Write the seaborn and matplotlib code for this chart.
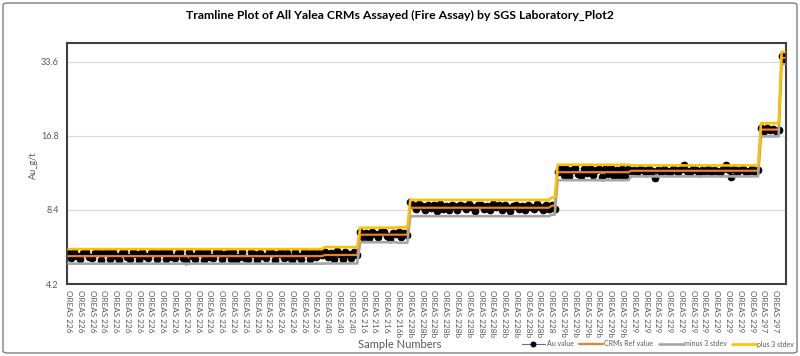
import matplotlib
matplotlib.use("Agg")
import matplotlib.pyplot as plt
import matplotlib.ticker as mticker
from matplotlib.patches import FancyBboxPatch
import numpy as np
import pandas as pd
import seaborn as sns

TITLE = "Tramline Plot of All Yalea CRMs Assayed (Fire Assay) by SGS Laboratory_Plot2"

# CRM blocks in assay order (last block has no visible tick label)
CRM_NAMES = ["OREAS 226", "OREAS 240", "OREAS 216", "OREAS 216b", "OREAS 228b",
             "OREAS 228", "OREAS 229b", "OREAS 229", "OREAS 297", "OREAS hi"]
REF_VALUES = [5.45, 5.51, 6.66, 6.66, 8.57, 8.73, 11.95, 12.11, 17.8, 34.8]
THREE_SD = [0.37, 0.42, 0.45, 0.48, 0.65, 0.70, 0.86, 0.62, 1.1, 2.0]

AU_226 = [5.62, 5.38, 5.66, 5.47, 5.30, 5.63, 5.68, 5.41, 5.35, 5.60,
          5.66, 5.28, 5.59, 5.64, 5.33, 5.67, 5.44, 5.25, 5.62, 5.68,
          5.39, 5.31, 5.65, 5.58, 5.27, 5.66, 5.46, 5.36, 5.63, 5.68,
          5.32, 5.60, 5.65, 5.29, 5.67, 5.42, 5.37, 5.62, 5.68, 5.34,
          5.22, 5.64, 5.45, 5.30, 5.66, 5.59, 5.26, 5.67, 5.40, 5.35,
          5.64, 5.68, 5.29, 5.57, 5.62, 5.33, 5.66, 5.24, 5.43, 5.65,
          5.38, 5.31, 5.68, 5.58, 5.27, 5.63, 5.44, 5.36, 5.66, 5.61,
          5.28, 5.56, 5.67, 5.34, 5.63, 5.41, 5.25, 5.66, 5.46, 5.32,
          5.64, 5.60, 5.29, 5.68, 5.39, 5.62, 5.52]
AU_240 = [5.66, 5.40, 5.62, 5.33, 5.70, 5.55, 5.29, 5.66, 5.58, 5.36, 5.68, 5.50]
AU_216 = [6.82, 6.52, 6.78, 6.45, 6.86, 6.70, 6.49, 6.80, 6.84, 6.55, 6.42, 6.78, 6.70]
AU_216B = [6.82, 6.50, 6.78, 6.62]
AU_228B = [9.05, 8.78, 8.48, 8.84, 8.71, 8.39, 8.80, 8.55, 8.76, 8.33,
           8.86, 8.50, 8.74, 8.42, 8.82, 8.68, 8.36, 8.78, 8.72, 8.45,
           8.84, 8.60, 8.31, 8.76, 8.80, 8.47, 8.70, 8.38, 8.85, 8.62,
           8.79, 8.43, 8.82, 8.58, 8.34, 8.75, 8.83, 8.49, 8.72, 8.40,
           8.80, 8.66, 8.44, 8.86, 8.61, 8.37, 8.77, 8.50]
AU_228 = [8.80, 8.50]
AU_229B = [11.92, 12.38, 11.65, 12.30, 11.48, 12.25, 12.42, 11.72, 11.55, 12.34,
           11.85, 12.44, 11.60, 12.18, 12.36, 11.44, 12.28, 11.78, 12.40, 11.52,
           12.22, 11.68, 12.35, 11.58, 12.30]
AU_229 = [12.05, 12.24, 11.95, 12.30, 12.15, 11.90, 12.28, 12.10, 11.30, 12.22,
          11.96, 12.32, 12.14, 11.92, 12.26, 12.20, 11.98, 12.28, 12.75, 12.12,
          11.94, 12.27, 12.18, 11.88, 12.25, 12.12, 12.33, 11.97, 12.22, 12.10,
          11.91, 12.29, 12.78, 12.16, 11.40, 12.26, 11.99, 12.20, 12.31, 11.93,
          12.14, 12.27, 11.96, 12.18]
AU_297 = [18.0, 17.6, 18.1, 17.7, 17.9, 17.5, 17.8]
AU_HI = [35.5, 34.2]

Y_TICKS = [4.2, 8.4, 16.8, 33.6]
Y_TICK_LABELS = ["4.2", "8.4", "16.8", "33.6"]

blocks = [AU_226, AU_240, AU_216, AU_216B, AU_228B, AU_228, AU_229B, AU_229, AU_297, AU_HI]
crm = np.concatenate([[n] * len(b) for n, b in zip(CRM_NAMES, blocks)])
au = np.concatenate(blocks)
ref = np.concatenate([[r] * len(b) for r, b in zip(REF_VALUES, blocks)])
sd3 = np.concatenate([[s] * len(b) for s, b in zip(THREE_SD, blocks)])
n = len(au)
df = pd.DataFrame({"sample": np.arange(n), "crm": crm, "au": au,
                   "ref": ref, "lo": ref - sd3, "hi": ref + sd3})

sns.set_theme(style="white")
plt.rcParams["font.family"] = ["Lato", "DejaVu Sans"]

GREY_TXT = "#595959"
fig = plt.figure(figsize=(8.0, 3.56), dpi=100)
ax = fig.add_axes([67 / 800, 1 - 284 / 356, 719 / 800, 241 / 356])

sns.lineplot(data=df, x="sample", y="au", ax=ax, color="#4472C4", linewidth=0.8,
             marker="o", markersize=4.8, markerfacecolor="black",
             markeredgecolor="black", label="Au value", zorder=2)
sns.lineplot(data=df, x="sample", y="ref", ax=ax, color="#ED7D31", linewidth=1.6,
             label="CRMs Ref value", zorder=3)
sns.lineplot(data=df, x="sample", y="lo", ax=ax, color="#A5A5A5", linewidth=1.9,
             label="minus 3 stdev", zorder=3)
sns.lineplot(data=df, x="sample", y="hi", ax=ax, color="#FFC000", linewidth=1.9,
             label="plus 3 stdev", zorder=4)

handles, labels = ax.get_legend_handles_labels()
ax.get_legend().remove()

ax.set_yscale("log", base=2)
ax.set_ylim(4.2, 40.0)
ax.set_yticks(Y_TICKS)
ax.yaxis.set_major_formatter(mticker.FixedFormatter(Y_TICK_LABELS))
ax.yaxis.set_minor_locator(mticker.NullLocator())
ax.grid(axis="y", color="#d9d9d9", linewidth=0.8)
ax.set_xlim(-0.5, n - 0.5)

ax.set_xticks(np.arange(0, n, 4))
ax.set_xticklabels(crm[::4], rotation=-90, ha="center", va="top")
ax.set_xticks(np.arange(-0.5, n, 1), minor=True)
ax.tick_params(axis="x", which="major", length=0, pad=4, labelsize=5.9, labelcolor=GREY_TXT)
ax.tick_params(axis="x", which="minor", length=2.5, width=0.6, color="#404040")
ax.tick_params(axis="y", length=0, pad=6, labelsize=6.5, labelcolor=GREY_TXT)
ax.set_xlabel("")
ax.set_ylabel("")
for sp in ax.spines.values():
    sp.set_visible(True)
    sp.set_color("#404040")
    sp.set_linewidth(1.5)

fig.text(0.5, 1 - 15 / 356, TITLE, ha="center", va="center",
         fontsize=8.8, fontweight="bold", color="black")
fig.text(33 / 800, 1 - 165 / 356, "Au_g/t", rotation=90, ha="center", va="center",
         fontsize=6.5, color=GREY_TXT)
fig.text(400 / 800, 1 - 345 / 356, "Sample Numbers", ha="center", va="center",
         fontsize=8, color=GREY_TXT)

leg = fig.legend(handles, labels, loc="center right", bbox_to_anchor=(797 / 800, 1 - 344 / 356),
                 ncol=4, frameon=False, fontsize=5, handlelength=3.4, handletextpad=0.2,
                 columnspacing=0.8, borderaxespad=0, labelcolor=GREY_TXT)
for h in leg.legend_handles:
    h.set_markersize(3.5)

fig.patches.append(FancyBboxPatch((3 / 800, 3 / 356), 794 / 800, 350 / 356,
                                  boxstyle="round,pad=0,rounding_size=0.006",
                                  transform=fig.transFigure, fill=False,
                                  edgecolor="#7f7f7f", linewidth=1.0))

fig.savefig("out.png", dpi=100, facecolor="white")
